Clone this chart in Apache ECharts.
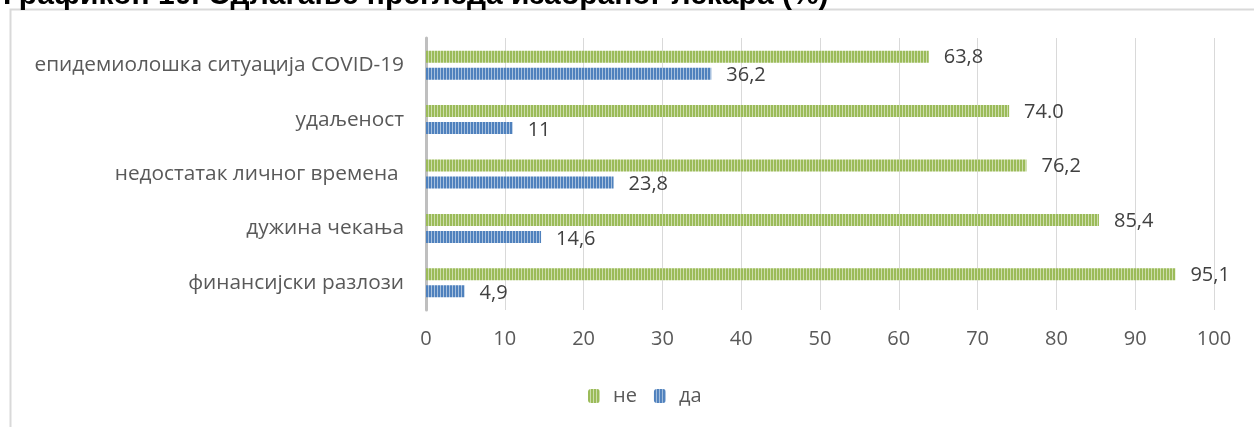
<!DOCTYPE html>
<html><head><meta charset="utf-8">
<script src="https://cdn.jsdelivr.net/npm/echarts@6/dist/echarts.min.js"></script>
<style>html,body{margin:0;padding:0;background:#fff}#c{width:1254px;height:427px}</style>
</head><body><div id="c"></div>
<script>
const titleText = 'Графикон 10. Одлагање прегледа изабраног лекара (%)';
const categories = ['епидемиолошка ситуација COVID-19', 'удаљеност', 'недостатак личног времена ', 'дужина чекања', 'финансијски разлози'];
const seriesNames = ['не', 'да'];
const valuesNe = [63.8, 74.0, 76.2, 85.4, 95.1];
const valuesDa = [36.2, 11, 23.8, 14.6, 4.9];
const labelsNe = ['63,8', '74.0', '76,2', '85,4', '95,1'];
const labelsDa = ['36,2', '11', '23,8', '14,6', '4,9'];
const xTicks = [0, 10, 20, 30, 40, 50, 60, 70, 80, 90, 100];

function stripe(dark, light) {
  const c = document.createElement('canvas');
  c.width = 3; c.height = 4;
  const g = c.getContext('2d');
  g.fillStyle = dark; g.fillRect(0, 0, 3, 4);
  g.fillStyle = light; g.fillRect(2, 0, 1, 4);
  return { image: c, repeat: 'repeat' };
}
const greenPat = stripe('#9BBB59', '#CDDDAC');
const bluePat = stripe('#4F81BD', '#A7C0DE');

const chart = echarts.init(document.getElementById('c'), null, { renderer: 'canvas' });
const lblFont = { fontFamily: 'Open Sans', fontSize: 20, color: '#404040' };
chart.setOption({
  animation: false,
  title: { text: titleText, left: -2, top: -24, textStyle: { fontFamily: 'Liberation Sans', fontWeight: 'bold', fontSize: 30, color: '#000' } },
  graphic: [{ type: 'rect', shape: { x: 10.5, y: 9.5, width: 1300, height: 500 }, style: { fill: 'none', stroke: '#d9d9d9', lineWidth: 2 }, silent: true }],
  legend: {
    data: seriesNames, bottom: 16, left: 583, itemWidth: 12, itemHeight: 14, itemGap: 17,
    textStyle: { fontFamily: 'Open Sans', fontSize: 20, color: '#595959', padding: [0, 0, 0, 8] }
  },
  grid: { left: 426, right: 40, top: 38, bottom: 117, containLabel: false },
  xAxis: {
    type: 'value', min: 0, max: 100, interval: 10,
    axisLine: { show: false }, axisTick: { show: false },
    splitLine: { lineStyle: { color: '#d9d9d9', width: 1 } },
    axisLabel: { margin: 19, fontFamily: 'Open Sans', fontSize: 20, color: '#595959',
      formatter: v => xTicks.includes(v) ? String(v) : '' }
  },
  yAxis: {
    type: 'category', data: categories, inverse: true,
    axisLine: { show: true, lineStyle: { color: '#bfbfbf', width: 3 } }, axisTick: { show: false },
    axisLabel: { margin: 22, fontFamily: 'Open Sans', fontSize: 20.8, color: '#595959' }
  },
  series: [
    { name: 'не', type: 'bar', data: valuesNe, barWidth: 12, barGap: '42%', itemStyle: { color: greenPat },
      label: { show: true, position: 'right', distance: 15, offset: [0, 1], formatter: p => labelsNe[p.dataIndex], ...lblFont } },
    { name: 'да', type: 'bar', data: valuesDa, barWidth: 12, itemStyle: { color: bluePat },
      label: { show: true, position: 'right', distance: 15, offset: [0, 2], formatter: p => labelsDa[p.dataIndex], ...lblFont } }
  ]
});
</script></body></html>
